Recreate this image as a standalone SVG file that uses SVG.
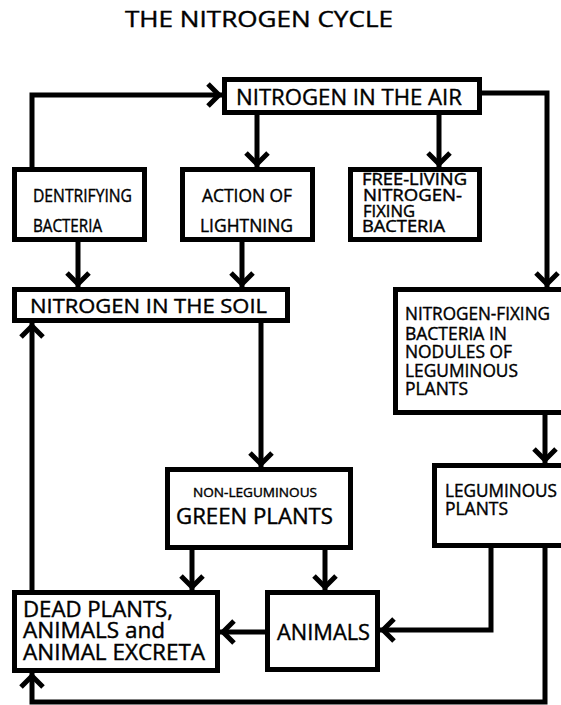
<svg xmlns="http://www.w3.org/2000/svg" width="561" height="705" viewBox="0 0 561 705">
<style>
  .box { fill: #fff; stroke: #000; stroke-width: 5; }
  .t { font-family: "Open Sans", "Liberation Sans", sans-serif; font-weight: 400; fill: #000; stroke: #000; stroke-width: 0.4; }
  .c { fill: none; stroke: #000; stroke-width: 5; marker-end: url(#chev); }
</style>
<defs>
  <marker id="chev" markerUnits="userSpaceOnUse" markerWidth="40" markerHeight="40" viewBox="-20 -20 40 40" refX="0" refY="0" orient="auto">
    <path d="M-14,-11 L-3,0 L-14,11" fill="none" stroke="#000" stroke-width="5" stroke-linejoin="miter"/>
  </marker>
</defs>
<rect width="561" height="705" fill="#fff"/>
<text class="t" x="125" y="27" font-size="22.5" textLength="268" lengthAdjust="spacingAndGlyphs">THE NITROGEN CYCLE</text>

<g id="connectors">
  <path class="c" d="M32,170 V95 H222"/>
  <path class="c" d="M257,113 V167"/>
  <path class="c" d="M439,113 V167"/>
  <path class="c" d="M480,93 H547 V287"/>
  <path class="c" d="M78,240 V287"/>
  <path class="c" d="M242,240 V287"/>
  <path class="c" d="M261,321 V467"/>
  <path class="c" d="M545,413 V463"/>
  <path class="c" d="M192,548 V590"/>
  <path class="c" d="M325,548 V590"/>
  <path class="c" d="M491,546 V630 H380"/>
  <path class="c" d="M267,632 H220"/>
  <path class="c" d="M545,546 V702 H32 V673"/>
  <path class="c" d="M32,592 V323"/>
</g>

<g id="air">
  <rect class="box" x="224.5" y="79.5" width="255" height="33"/>
  <text class="t" x="236" y="105" font-size="22" textLength="226" lengthAdjust="spacingAndGlyphs">NITROGEN IN THE AIR</text>
</g>
<g id="dentrifying">
  <rect class="box" x="14.5" y="169.5" width="130" height="70"/>
  <text class="t" x="33" y="202" font-size="17.5" textLength="99" lengthAdjust="spacingAndGlyphs">DENTRIFYING</text>
  <text class="t" x="33" y="232" font-size="17.5" textLength="69" lengthAdjust="spacingAndGlyphs">BACTERIA</text>
</g>
<g id="lightning">
  <rect class="box" x="182.5" y="169.5" width="130" height="70"/>
  <text class="t" x="202" y="202" font-size="17.5" textLength="90" lengthAdjust="spacingAndGlyphs">ACTION OF</text>
  <text class="t" x="200" y="232" font-size="17.5" textLength="93" lengthAdjust="spacingAndGlyphs">LIGHTNING</text>
</g>
<g id="freeliving">
  <rect class="box" x="350.5" y="169.5" width="129" height="70"/>
  <text class="t" x="362" y="185" font-size="15.5" textLength="105" lengthAdjust="spacingAndGlyphs">FREE-LIVING</text>
  <text class="t" x="363" y="201" font-size="15.5" textLength="99" lengthAdjust="spacingAndGlyphs">NITROGEN-</text>
  <text class="t" x="363" y="217" font-size="15.5" textLength="52" lengthAdjust="spacingAndGlyphs">FIXING</text>
  <text class="t" x="362" y="232" font-size="15.5" textLength="83" lengthAdjust="spacingAndGlyphs">BACTERIA</text>
</g>
<g id="soil">
  <rect class="box" x="14.5" y="289.5" width="273" height="31"/>
  <text class="t" x="30" y="313" font-size="20.5" textLength="237" lengthAdjust="spacingAndGlyphs">NITROGEN IN THE SOIL</text>
</g>
<g id="nodules">
  <rect class="box" x="395.5" y="289.5" width="175" height="123"/>
  <text class="t" x="405" y="320" font-size="17.5" textLength="145" lengthAdjust="spacingAndGlyphs">NITROGEN-FIXING</text>
  <text class="t" x="405" y="340" font-size="17.5" textLength="102" lengthAdjust="spacingAndGlyphs">BACTERIA IN</text>
  <text class="t" x="405" y="358" font-size="17.5" textLength="107" lengthAdjust="spacingAndGlyphs">NODULES OF</text>
  <text class="t" x="405" y="377" font-size="17.5" textLength="113" lengthAdjust="spacingAndGlyphs">LEGUMINOUS</text>
  <text class="t" x="405" y="395" font-size="17.5" textLength="63" lengthAdjust="spacingAndGlyphs">PLANTS</text>
</g>
<g id="green">
  <rect class="box" x="167.5" y="469.5" width="183" height="78"/>
  <text class="t" x="193" y="497" font-size="13" textLength="124" lengthAdjust="spacingAndGlyphs">NON-LEGUMINOUS</text>
  <text class="t" x="176" y="524" font-size="21.5" textLength="157" lengthAdjust="spacingAndGlyphs">GREEN PLANTS</text>
</g>
<g id="leguminous">
  <rect class="box" x="434.5" y="465.5" width="135" height="80"/>
  <text class="t" x="445" y="497" font-size="17.5" textLength="112" lengthAdjust="spacingAndGlyphs">LEGUMINOUS</text>
  <text class="t" x="445" y="515" font-size="17.5" textLength="63" lengthAdjust="spacingAndGlyphs">PLANTS</text>
</g>
<g id="dead">
  <rect class="box" x="14.5" y="592.5" width="203" height="78"/>
  <text class="t" x="23" y="617" font-size="21" textLength="150" lengthAdjust="spacingAndGlyphs">DEAD PLANTS,</text>
  <text class="t" x="23" y="638" font-size="21" textLength="142" lengthAdjust="spacingAndGlyphs">ANIMALS and</text>
  <text class="t" x="23" y="660" font-size="21" textLength="182" lengthAdjust="spacingAndGlyphs">ANIMAL EXCRETA</text>
</g>
<g id="animals">
  <rect class="box" x="267.5" y="592.5" width="110" height="77"/>
  <text class="t" x="277" y="640" font-size="21.5" textLength="93" lengthAdjust="spacingAndGlyphs">ANIMALS</text>
</g>
</svg>
